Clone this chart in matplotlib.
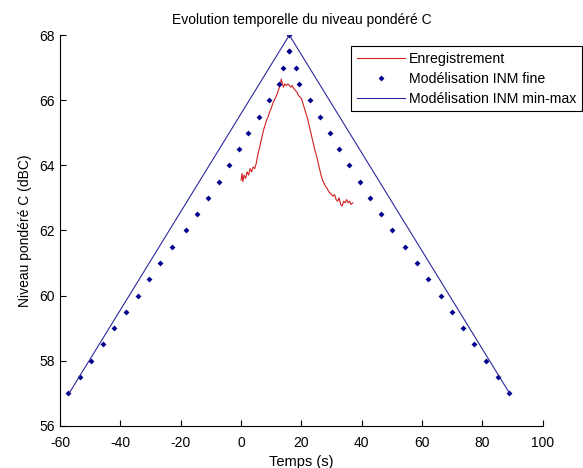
import matplotlib.pyplot as plt

plt.rcParams['font.family'] = ['Liberation Sans', 'DejaVu Sans']
plt.rcParams['axes.unicode_minus'] = False

# Modelisation INM min-max (triangle)
t_minmax = [-57, 16, 89]
niveau_minmax = [57, 68, 57]

# Modelisation INM fine (points tous les 0.5 dB)
t_fine = [-57.2, -53.4, -49.7, -45.6, -42.0, -38.2, -34.2, -30.5, -26.9, -22.8,
          -18.3, -14.7, -11.0, -7.3, -4.0, -0.7, 2.2, 6.0, 9.2, 12.7, 14.0, 16.0,
          16.0, 16.0, 18.1, 19.2, 22.9, 26.2, 29.5, 32.5, 35.7, 39.3, 42.8, 46.3,
          49.9, 54.4, 58.4, 62.1, 66.2, 69.8, 73.5, 77.1, 81.3, 85.3, 88.9]
niveau_fine = [57.0, 57.5, 58.0, 58.5, 59.0, 59.5, 60.0, 60.5, 61.0, 61.5,
               62.0, 62.5, 63.0, 63.5, 64.0, 64.5, 65.0, 65.5, 66.0, 66.5, 67.0, 67.5,
               68.0, 67.5, 67.0, 66.5, 66.0, 65.5, 65.0, 64.5, 64.0, 63.5, 63.0, 62.5,
               62.0, 61.5, 61.0, 60.5, 60.0, 59.5, 59.0, 58.5, 58.0, 57.5, 57.0]

# Enregistrement
t_mesure = [0.0, 0.3, 0.6, 1.0, 1.5, 2.0, 2.5, 3.0, 3.5, 4.0, 4.5, 5.0, 5.5, 6.0,
            6.5, 7.0, 7.5, 8.0, 8.5, 9.0, 9.5, 10.0, 10.5, 11.0, 11.5, 12.0, 12.5,
            13.0, 13.3, 13.6, 14.0, 14.5, 15.0, 15.5, 16.0, 16.5, 17.0, 17.5, 18.0,
            18.5, 19.0, 19.5, 20.0, 20.5, 21.0, 21.5, 22.0, 22.5, 23.0, 23.5, 24.0,
            24.5, 25.0, 25.5, 26.0, 26.5, 27.0, 27.5, 28.0, 28.5, 29.0, 29.5, 30.0,
            30.5, 31.0, 31.5, 32.0, 32.5, 33.0, 33.5, 34.0, 34.5, 35.0, 35.5, 36.0,
            36.5, 37.0]
niveau_mesure = [63.55, 63.75, 63.5, 63.7, 63.6, 63.8, 63.7, 63.9, 63.8, 63.95, 63.9,
                 64.05, 64.3, 64.5, 64.7, 64.9, 65.1, 65.25, 65.4, 65.5, 65.65, 65.75,
                 65.9, 66.0, 66.1, 66.2, 66.35, 66.45, 66.65, 66.55, 66.4, 66.5, 66.45,
                 66.5, 66.45, 66.4, 66.45, 66.35, 66.3, 66.25, 66.15, 66.1, 66.05, 65.9,
                 65.75, 65.6, 65.45, 65.25, 65.05, 64.85, 64.65, 64.45, 64.3, 64.1, 63.9,
                 63.7, 63.55, 63.45, 63.35, 63.3, 63.2, 63.15, 63.1, 63.05, 63.1, 62.95,
                 62.9, 63.0, 62.8, 62.75, 62.9, 62.85, 62.95, 62.85, 62.9, 62.8, 62.85]

fig = plt.figure(figsize=(5.83, 4.68), dpi=100)
ax = fig.add_axes([0.103, 0.09, 0.828, 0.835])

ax.plot(t_mesure, niveau_mesure, color='#d02020', lw=0.8, label='Enregistrement')
ax.plot(t_fine, niveau_fine, 'D', color='#00008c', ms=3, mew=0, ls='none',
        label='Modélisation INM fine')
ax.plot(t_minmax, niveau_minmax, color='#2a2a9a', lw=0.8,
        label='Modélisation INM min-max')

ax.set_xlim(-60, 100)
ax.set_ylim(56, 68)
ax.set_xticks(range(-60, 101, 20))
ax.set_yticks(range(56, 69, 2))
ax.tick_params(direction='in', length=4, labelsize=10)
ax.tick_params(axis='x', pad=7)
ax.tick_params(axis='y', pad=4)
ax.spines['top'].set_visible(False)
ax.spines['right'].set_visible(False)

ax.set_title('Evolution temporelle du niveau pondéré C', fontsize=10, pad=8)
ax.set_xlabel('Temps (s)', fontsize=10.5, labelpad=4)
ax.set_ylabel('Niveau pondéré C (dBC)', fontsize=10, labelpad=5)

leg = ax.legend(loc='upper right', bbox_to_anchor=(582 / 583, 1 - 46 / 468),
                bbox_transform=fig.transFigure, fontsize=10.2, fancybox=False,
                framealpha=1, edgecolor='black', handlelength=3.4,
                labelspacing=0.42, borderaxespad=0, borderpad=0.4,
                handletextpad=0.3)
leg.get_frame().set_linewidth(0.8)

fig.savefig('out.png', dpi=100)
